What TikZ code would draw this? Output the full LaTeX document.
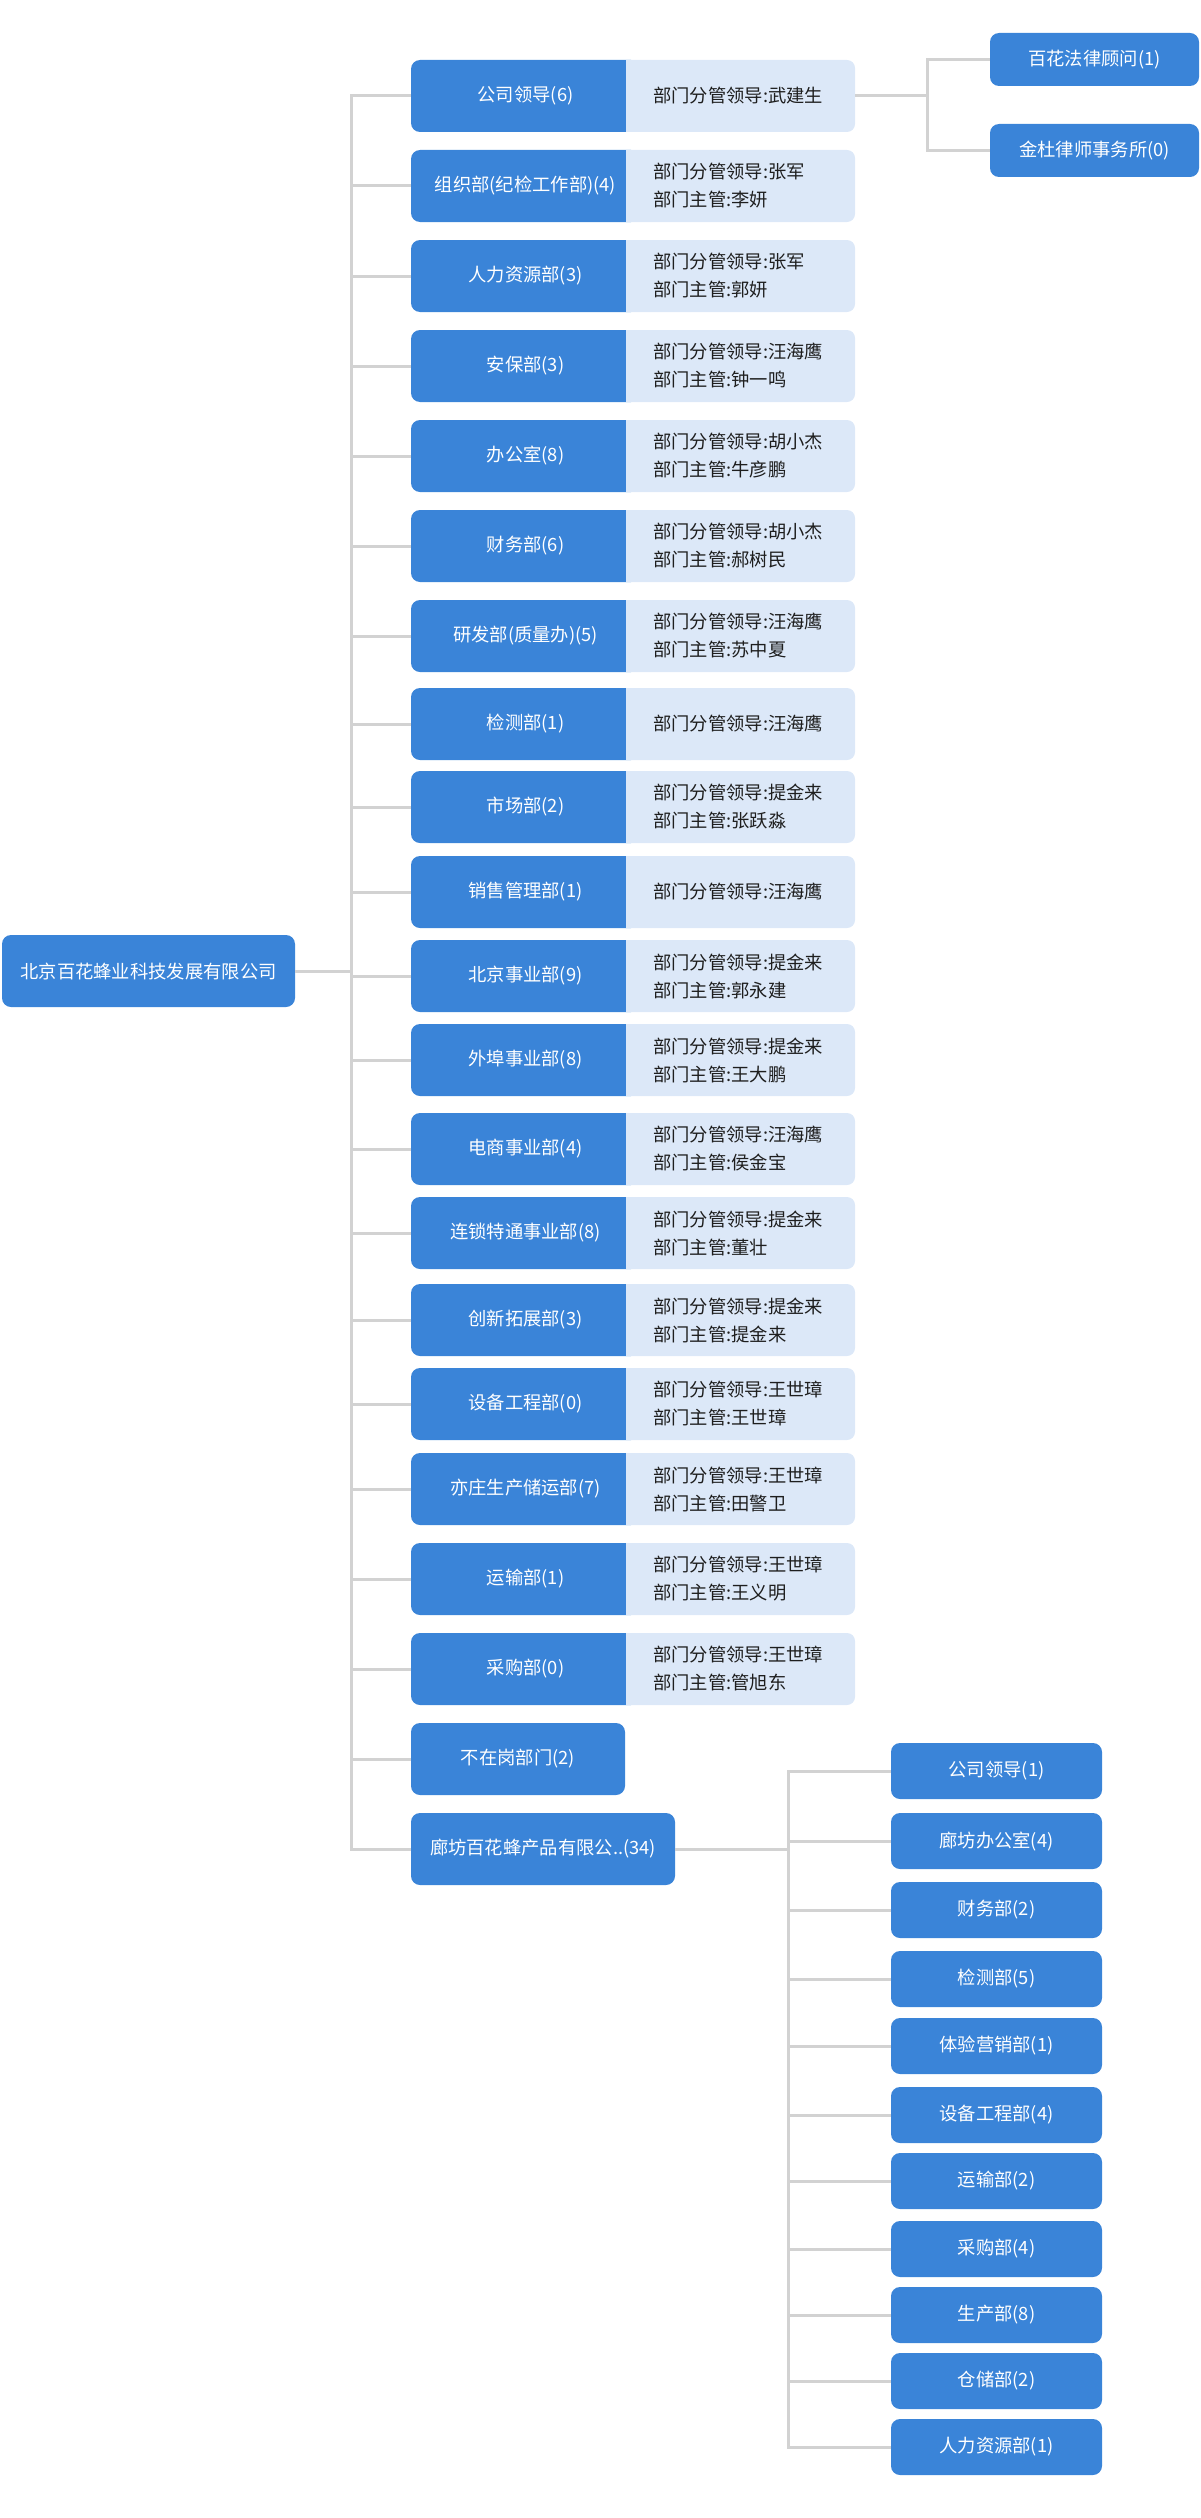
\documentclass[tikz,border=0pt]{standalone}
\usepackage{fontspec}
\setmainfont{Noto Sans CJK SC}
\definecolor{bluec}{HTML}{3A84D8}
\definecolor{lightc}{HTML}{DCE8F8}
\definecolor{linec}{HTML}{D2D2D2}
\definecolor{txtc}{HTML}{1E1E1E}
\newcommand\mrow[4]{%
  \node[bluebox, minimum width=229pt, minimum height=72pt] (#1) at (525.5,{#2+36}) {#3};
  \fill[lightc] (626,#2) [rounded corners=8pt] -- (855,#2) -- (855,{#2+72}) [sharp corners] -- (626,{#2+72}) -- cycle;
  \coordinate (#1r) at (855,{#2+36});
  \node[detail] (#1d) at (653,{#2+36}) {#4};
}
\newcommand\srow[3]{%
  \node[bluebox, minimum width=211pt, minimum height=56pt] (#1) at (996.5,{#2+28}) {#3};
}
\begin{document}
\begin{tikzpicture}[x=1pt,y=-1pt,
  bluebox/.style={fill=bluec, rounded corners=9pt, text=white, inner sep=0pt, font=\fontsize{18.3}{22}\selectfont},
  detail/.style={anchor=west, align=left, text=txtc, inner sep=0pt, font=\fontsize{18.3}{28}\selectfont},
  conn/.style={draw=linec, line width=3pt}]
\useasboundingbox (0,0) rectangle (1200,2518);

% root
\node[bluebox, minimum width=293pt, minimum height=72pt] (root) at (148.5,971) {北京百花蜂业科技发展有限公司};

% main rows
\mrow{m1}{60}{公司领导(6)}{部门分管领导:武建生}
\mrow{m2}{150}{组织部(纪检工作部)(4)}{部门分管领导:张军\\部门主管:李妍}
\mrow{m3}{240}{人力资源部(3)}{部门分管领导:张军\\部门主管:郭妍}
\mrow{m4}{330}{安保部(3)}{部门分管领导:汪海鹰\\部门主管:钟一鸣}
\mrow{m5}{420}{办公室(8)}{部门分管领导:胡小杰\\部门主管:牛彦鹏}
\mrow{m6}{510}{财务部(6)}{部门分管领导:胡小杰\\部门主管:郝树民}
\mrow{m7}{600}{研发部(质量办)(5)}{部门分管领导:汪海鹰\\部门主管:苏中夏}
\mrow{m8}{688}{检测部(1)}{部门分管领导:汪海鹰}
\mrow{m9}{771}{市场部(2)}{部门分管领导:提金来\\部门主管:张跃淼}
\mrow{m10}{856}{销售管理部(1)}{部门分管领导:汪海鹰}
\mrow{m11}{940}{北京事业部(9)}{部门分管领导:提金来\\部门主管:郭永建}
\mrow{m12}{1024}{外埠事业部(8)}{部门分管领导:提金来\\部门主管:王大鹏}
\mrow{m13}{1113}{电商事业部(4)}{部门分管领导:汪海鹰\\部门主管:侯金宝}
\mrow{m14}{1197}{连锁特通事业部(8)}{部门分管领导:提金来\\部门主管:董壮}
\mrow{m15}{1284}{创新拓展部(3)}{部门分管领导:提金来\\部门主管:提金来}
\mrow{m16}{1368}{设备工程部(0)}{部门分管领导:王世璋\\部门主管:王世璋}
\mrow{m17}{1453}{亦庄生产储运部(7)}{部门分管领导:王世璋\\部门主管:田警卫}
\mrow{m18}{1543}{运输部(1)}{部门分管领导:王世璋\\部门主管:王义明}
\mrow{m19}{1633}{采购部(0)}{部门分管领导:王世璋\\部门主管:管旭东}
\node[bluebox, minimum width=214pt, minimum height=72pt] (m20) at (518,1759) {不在岗部门(2)};
\node[bluebox, minimum width=264pt, minimum height=72pt] (m21) at (543,1849) {廊坊百花蜂产品有限公..(34)};

% top right
\node[bluebox, minimum width=209pt, minimum height=53pt] (law1) at (1094.5,59.5) {百花法律顾问(1)};
\node[bluebox, minimum width=209pt, minimum height=53pt] (law2) at (1094.5,150.5) {金杜律师事务所(0)};

% sub rows
\srow{s1}{1743}{公司领导(1)}
\srow{s2}{1813}{廊坊办公室(4)}
\srow{s3}{1882}{财务部(2)}
\srow{s4}{1951}{检测部(5)}
\srow{s5}{2018}{体验营销部(1)}
\srow{s6}{2087}{设备工程部(4)}
\srow{s7}{2153}{运输部(2)}
\srow{s8}{2221}{采购部(4)}
\srow{s9}{2287}{生产部(8)}
\srow{s10}{2353}{仓储部(2)}
\srow{s11}{2419}{人力资源部(1)}

% connectors: main trunk
\coordinate (tk) at (351,971);
\draw[conn] (root.east) -- (root.east -| tk);
\draw[conn, line cap=rect] (m1.west -| tk) -- (m21.west -| tk);
\foreach \n in {m1,m2,m3,m4,m5,m6,m7,m8,m9,m10,m11,m12,m13,m14,m15,m16,m17,m18,m19,m20,m21}
  \draw[conn] (\n.west -| tk) -- (\n.west);

% top right connectors
\coordinate (rj) at (927,96);
\draw[conn] (m1r) -- (rj);
\draw[conn, line cap=rect] (rj |- law1.west) -- (rj |- law2.west);
\draw[conn] (rj |- law1.west) -- (law1.west);
\draw[conn] (rj |- law2.west) -- (law2.west);

% sub trunk
\coordinate (sj) at (788,1849);
\draw[conn] (m21.east) -- (sj);
\draw[conn, line cap=rect] (sj |- s1.west) -- (sj |- s11.west);
\foreach \n in {s1,s2,s3,s4,s5,s6,s7,s8,s9,s10,s11}
  \draw[conn] (sj |- \n.west) -- (\n.west);
\end{tikzpicture}
\end{document}
